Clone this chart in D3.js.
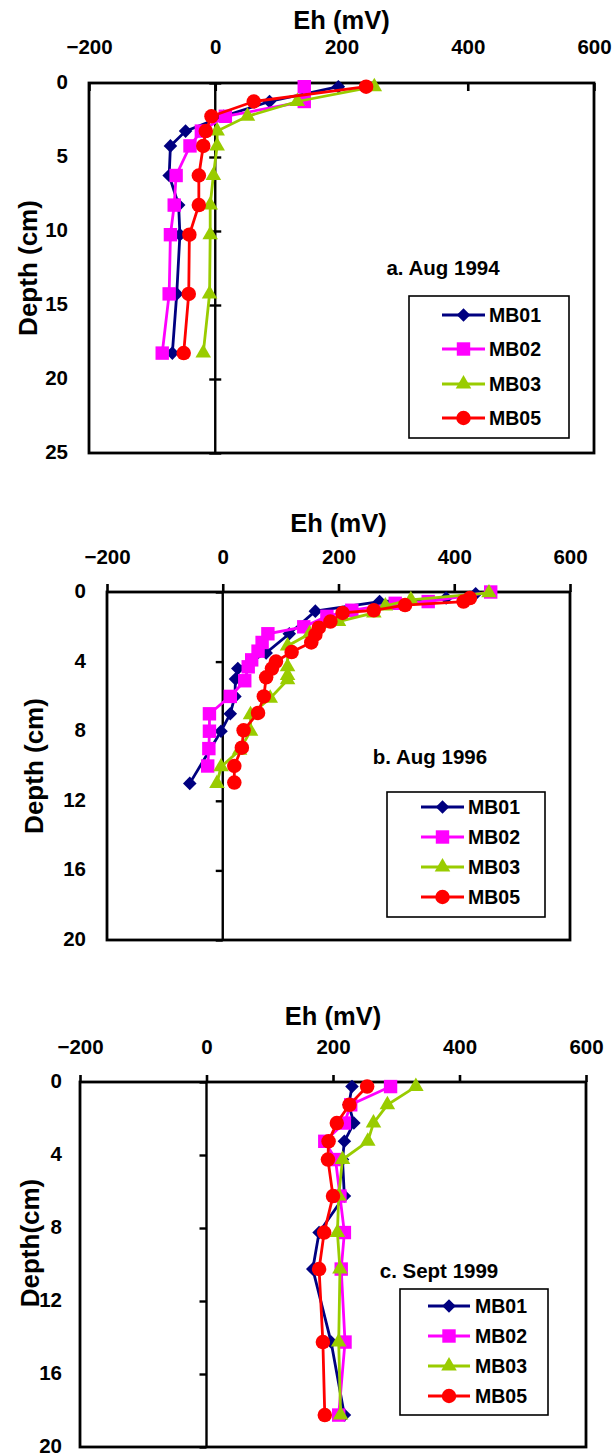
<!DOCTYPE html>
<html>
<head>
<meta charset="utf-8">
<script src="https://cdnjs.cloudflare.com/ajax/libs/d3/7.8.5/d3.min.js"></script>
<style>
  body { margin: 0; background: #fff; }
  svg { display: block; font-family: "Liberation Sans", Arial, sans-serif; font-weight: bold; }
</style>
</head>
<body>
<svg width="613" height="1456"></svg>
<script>
// ---- data ----
const seriesNames = ["MB01", "MB02", "MB03", "MB05"];
const seriesColors = ["#000080", "#FF00FF", "#99CC00", "#FF0000"];
const xTickValues = [-200, 0, 200, 400, 600];

// a. Aug 1994  (depth cm, Eh mV)
const depthA = [0.25, 1.25, 2.25, 3.25, 4.25, 6.25, 8.25, 10.25, 14.25, 18.25];
const aMB01 = [195, 86, 13, -47, -71, -73, -58, -56, -61, -68];
const aMB02 = [141, 141, 16, -22, -40, -62, -65, -71, -73, -84];
const aMB03 = [252, 130, 51, 3, 3, -3, -8, -8, -9, -19];
const aMB05 = [239, 61, -6, -15, -19, -26, -26, -41, -42, -50];

// b. Aug 1996  ([depth, Eh] pairs, uneven depths)
const bMB01 = [[0.1, 437], [0.35, 386], [0.55, 271], [1.1, 160], [2.4, 115], [3.5, 75], [4.4, 26], [5.0, 22], [6.0, 21], [7.0, 13], [8.0, -3], [11.0, -57]];
const bMB02 = [[0.0, 463], [0.55, 355], [0.65, 298], [1.05, 223], [1.4, 180], [2.0, 140], [2.4, 78], [2.9, 68], [3.4, 61], [3.9, 50], [4.3, 44], [5.1, 38], [6.0, 13], [7.0, -23], [8.0, -23], [9.0, -24], [10.0, -26]];
const bMB03 = [[0.05, 460], [0.45, 325], [0.8, 281], [1.2, 261], [1.7, 200], [2.4, 150], [3.1, 112], [4.3, 112], [4.8, 112], [5.05, 112], [6.1, 82], [7.05, 48], [8.0, 48], [9.1, 29], [10.05, -3], [11.0, -10]];
const bMB05 = [[0.35, 427], [0.55, 416], [0.75, 315], [1.05, 261], [1.2, 207], [1.7, 186], [2.05, 166], [2.45, 160], [2.9, 153], [3.45, 119], [4.0, 92], [4.4, 85], [4.9, 75], [6.0, 71], [6.95, 61], [7.95, 36], [8.95, 33], [10.0, 20], [10.95, 20]];

// c. Sept 1999
const depthC = [0.25, 1.25, 2.25, 3.25, 4.25, 6.25, 8.25, 10.25, 14.25, 18.25];
const cMB01 = [230, 225, 233, 218, 215, 218, 178, 168, 197, 218];
const cMB02 = [291, 228, 218, 187, 204, 211, 218, 213, 219, 209];
const cMB03 = [331, 286, 264, 255, 215, 209, 207, 211, 209, 212];
const cMB05 = [254, 226, 206, 193, 192, 200, 186, 178, 184, 187];

const zipDepth = (depths, vals) => depths.map((d, i) => [d, vals[i]]);

// ---- layout ----
const panels = [
  { left: 89, right: 594, top: 83, bottom: 453, yMax: 25, yStep: 5,
    xTickDir: -8, xPad: 29, titleY: 20, yTitle: "Depth (cm)", yTitleX: 28, yTitleY: 268,
    yLabelPad: 21, yTickCross: true, note: "a. Aug 1994", noteX: 443, noteY: 267,
    legend: { x: 409, y: 296, w: 160, h: 142, rowY: [315, 349, 384, 418], l1: 442, l2: 485, tx: 489 },
    series: [zipDepth(depthA, aMB01), zipDepth(depthA, aMB02), zipDepth(depthA, aMB03), zipDepth(depthA, aMB05)] },
  { left: 107, right: 570, top: 592, bottom: 940, yMax: 20, yStep: 4,
    xTickDir: 8, xPad: 20, titleY: 523, yTitle: "Depth (cm)", yTitleX: 34, yTitleY: 766,
    yLabelPad: 21, yTickCross: false, note: "b. Aug 1996", noteX: 430, noteY: 756,
    legend: { x: 387, y: 792, w: 158, h: 125, rowY: [807, 837, 867, 897], l1: 421, l2: 464, tx: 468 },
    series: [bMB01, bMB02, bMB03, bMB05] },
  { left: 80, right: 586, top: 1082, bottom: 1447, yMax: 20, yStep: 4,
    xTickDir: 7, xPad: 21, titleY: 1016, yTitle: "Depth(cm)", yTitleX: 30, yTitleY: 1243,
    yLabelPad: 18, yTickCross: false, note: "c. Sept 1999", noteX: 439, noteY: 1270,
    legend: { x: 400, y: 1289, w: 148, h: 126, rowY: [1306, 1336, 1366, 1396], l1: 428, l2: 470, tx: 475 },
    series: [zipDepth(depthC, cMB01), zipDepth(depthC, cMB02), zipDepth(depthC, cMB03), zipDepth(depthC, cMB05)] }
];

const svg = d3.select("svg");

function marker(g, i, cx, cy) {
  const col = seriesColors[i];
  if (i === 0) {
    g.append("path").attr("d", d3.symbol(d3.symbolSquare, 92)())
      .attr("transform", `translate(${cx},${cy}) rotate(45)`).attr("fill", col);
  } else if (i === 1) {
    g.append("path").attr("d", d3.symbol(d3.symbolSquare, 180)())
      .attr("transform", `translate(${cx},${cy})`).attr("fill", col);
  } else if (i === 2) {
    g.append("path").attr("d", d3.symbol(d3.symbolTriangle, 105)())
      .attr("transform", `translate(${cx},${cy})`).attr("fill", col);
  } else {
    g.append("path").attr("d", d3.symbol(d3.symbolCircle, 165)())
      .attr("transform", `translate(${cx},${cy})`).attr("fill", col);
  }
}

panels.forEach(p => {
  const x = d3.scaleLinear().domain([-200, 600]).range([p.left, p.right]);
  const y = d3.scaleLinear().domain([0, p.yMax]).range([p.top, p.bottom]);
  const yTicks = d3.range(0, p.yMax + 0.01, p.yStep);
  const g = svg.append("g");

  // plot border
  g.append("rect").attr("x", p.left).attr("y", p.top)
    .attr("width", p.right - p.left).attr("height", p.bottom - p.top)
    .attr("fill", "none").attr("stroke", "#000").attr("stroke-width", 2.8);

  // top x axis
  const xAxis = g.append("g").attr("transform", `translate(0,${p.top})`)
    .call(d3.axisTop(x).tickValues(xTickValues).tickSize(p.xTickDir).tickPadding(p.xPad).tickFormat(d3.format("d")));
  xAxis.select(".domain").remove();
  xAxis.selectAll("line").attr("stroke", "#000").attr("stroke-width", 2.6);
  if (p.xTickDir < 0) xAxis.selectAll("text").attr("y", -p.xPad);
  xAxis.selectAll("text").attr("font-size", 20.5).attr("font-family", null).attr("font-weight", "bold").attr("fill", "#000");

  // y axis line at Eh = 0
  g.append("line").attr("x1", x(0)).attr("x2", x(0)).attr("y1", p.top).attr("y2", p.bottom)
    .attr("stroke", "#000").attr("stroke-width", 2.4);
  const tickLen = p.yTickCross ? 12 : 7;
  const yTickAxis = g.append("g").attr("transform", `translate(${x(0) + (p.yTickCross ? 6 : 0)},0)`)
    .call(d3.axisLeft(y).tickValues(yTicks).tickSize(tickLen).tickFormat(""));
  yTickAxis.select(".domain").remove();
  yTickAxis.selectAll("line").attr("stroke", "#000").attr("stroke-width", 2.4);

  // y labels at left border
  const yLab = g.append("g").attr("transform", `translate(${p.left},-1)`)
    .call(d3.axisLeft(y).tickValues(yTicks).tickSize(0).tickPadding(p.yLabelPad));
  yLab.select(".domain").remove();
  yLab.selectAll("text").attr("font-size", 20.5).attr("font-family", null).attr("font-weight", "bold").attr("fill", "#000");

  // titles
  g.append("text").attr("x", (p.left + p.right) / 2).attr("y", p.titleY)
    .attr("text-anchor", "middle").attr("dominant-baseline", "central")
    .attr("font-size", 25.5).text("Eh (mV)");
  g.append("text").attr("transform", `translate(${p.yTitleX},${p.yTitleY}) rotate(-90)`)
    .attr("text-anchor", "middle").attr("dominant-baseline", "central")
    .attr("font-size", 26).text(p.yTitle);

  // note
  g.append("text").attr("x", p.noteX).attr("y", p.noteY)
    .attr("text-anchor", "middle").attr("dominant-baseline", "central")
    .attr("font-size", 20.5).text(p.note);

  // series
  const line = d3.line().x(d => x(d[1])).y(d => y(d[0]));
  p.series.forEach((s, i) => {
    const sg = g.append("g");
    sg.append("path").datum(s).attr("d", line)
      .attr("fill", "none").attr("stroke", seriesColors[i]).attr("stroke-width", 2.8);
    s.forEach(d => marker(sg, i, x(d[1]), y(d[0])));
  });

  // legend
  const L = p.legend;
  const lg = g.append("g");
  lg.append("rect").attr("x", L.x).attr("y", L.y).attr("width", L.w).attr("height", L.h)
    .attr("fill", "#fff").attr("stroke", "#000").attr("stroke-width", 1.6);
  seriesNames.forEach((n, i) => {
    lg.append("line").attr("x1", L.l1).attr("x2", L.l2).attr("y1", L.rowY[i]).attr("y2", L.rowY[i])
      .attr("stroke", seriesColors[i]).attr("stroke-width", 2.8);
    marker(lg, i, (L.l1 + L.l2) / 2, L.rowY[i]);
    lg.append("text").attr("x", L.tx).attr("y", L.rowY[i]).attr("dominant-baseline", "central")
      .attr("font-size", 19.5).text(n);
  });
});
</script>
</body>
</html>
